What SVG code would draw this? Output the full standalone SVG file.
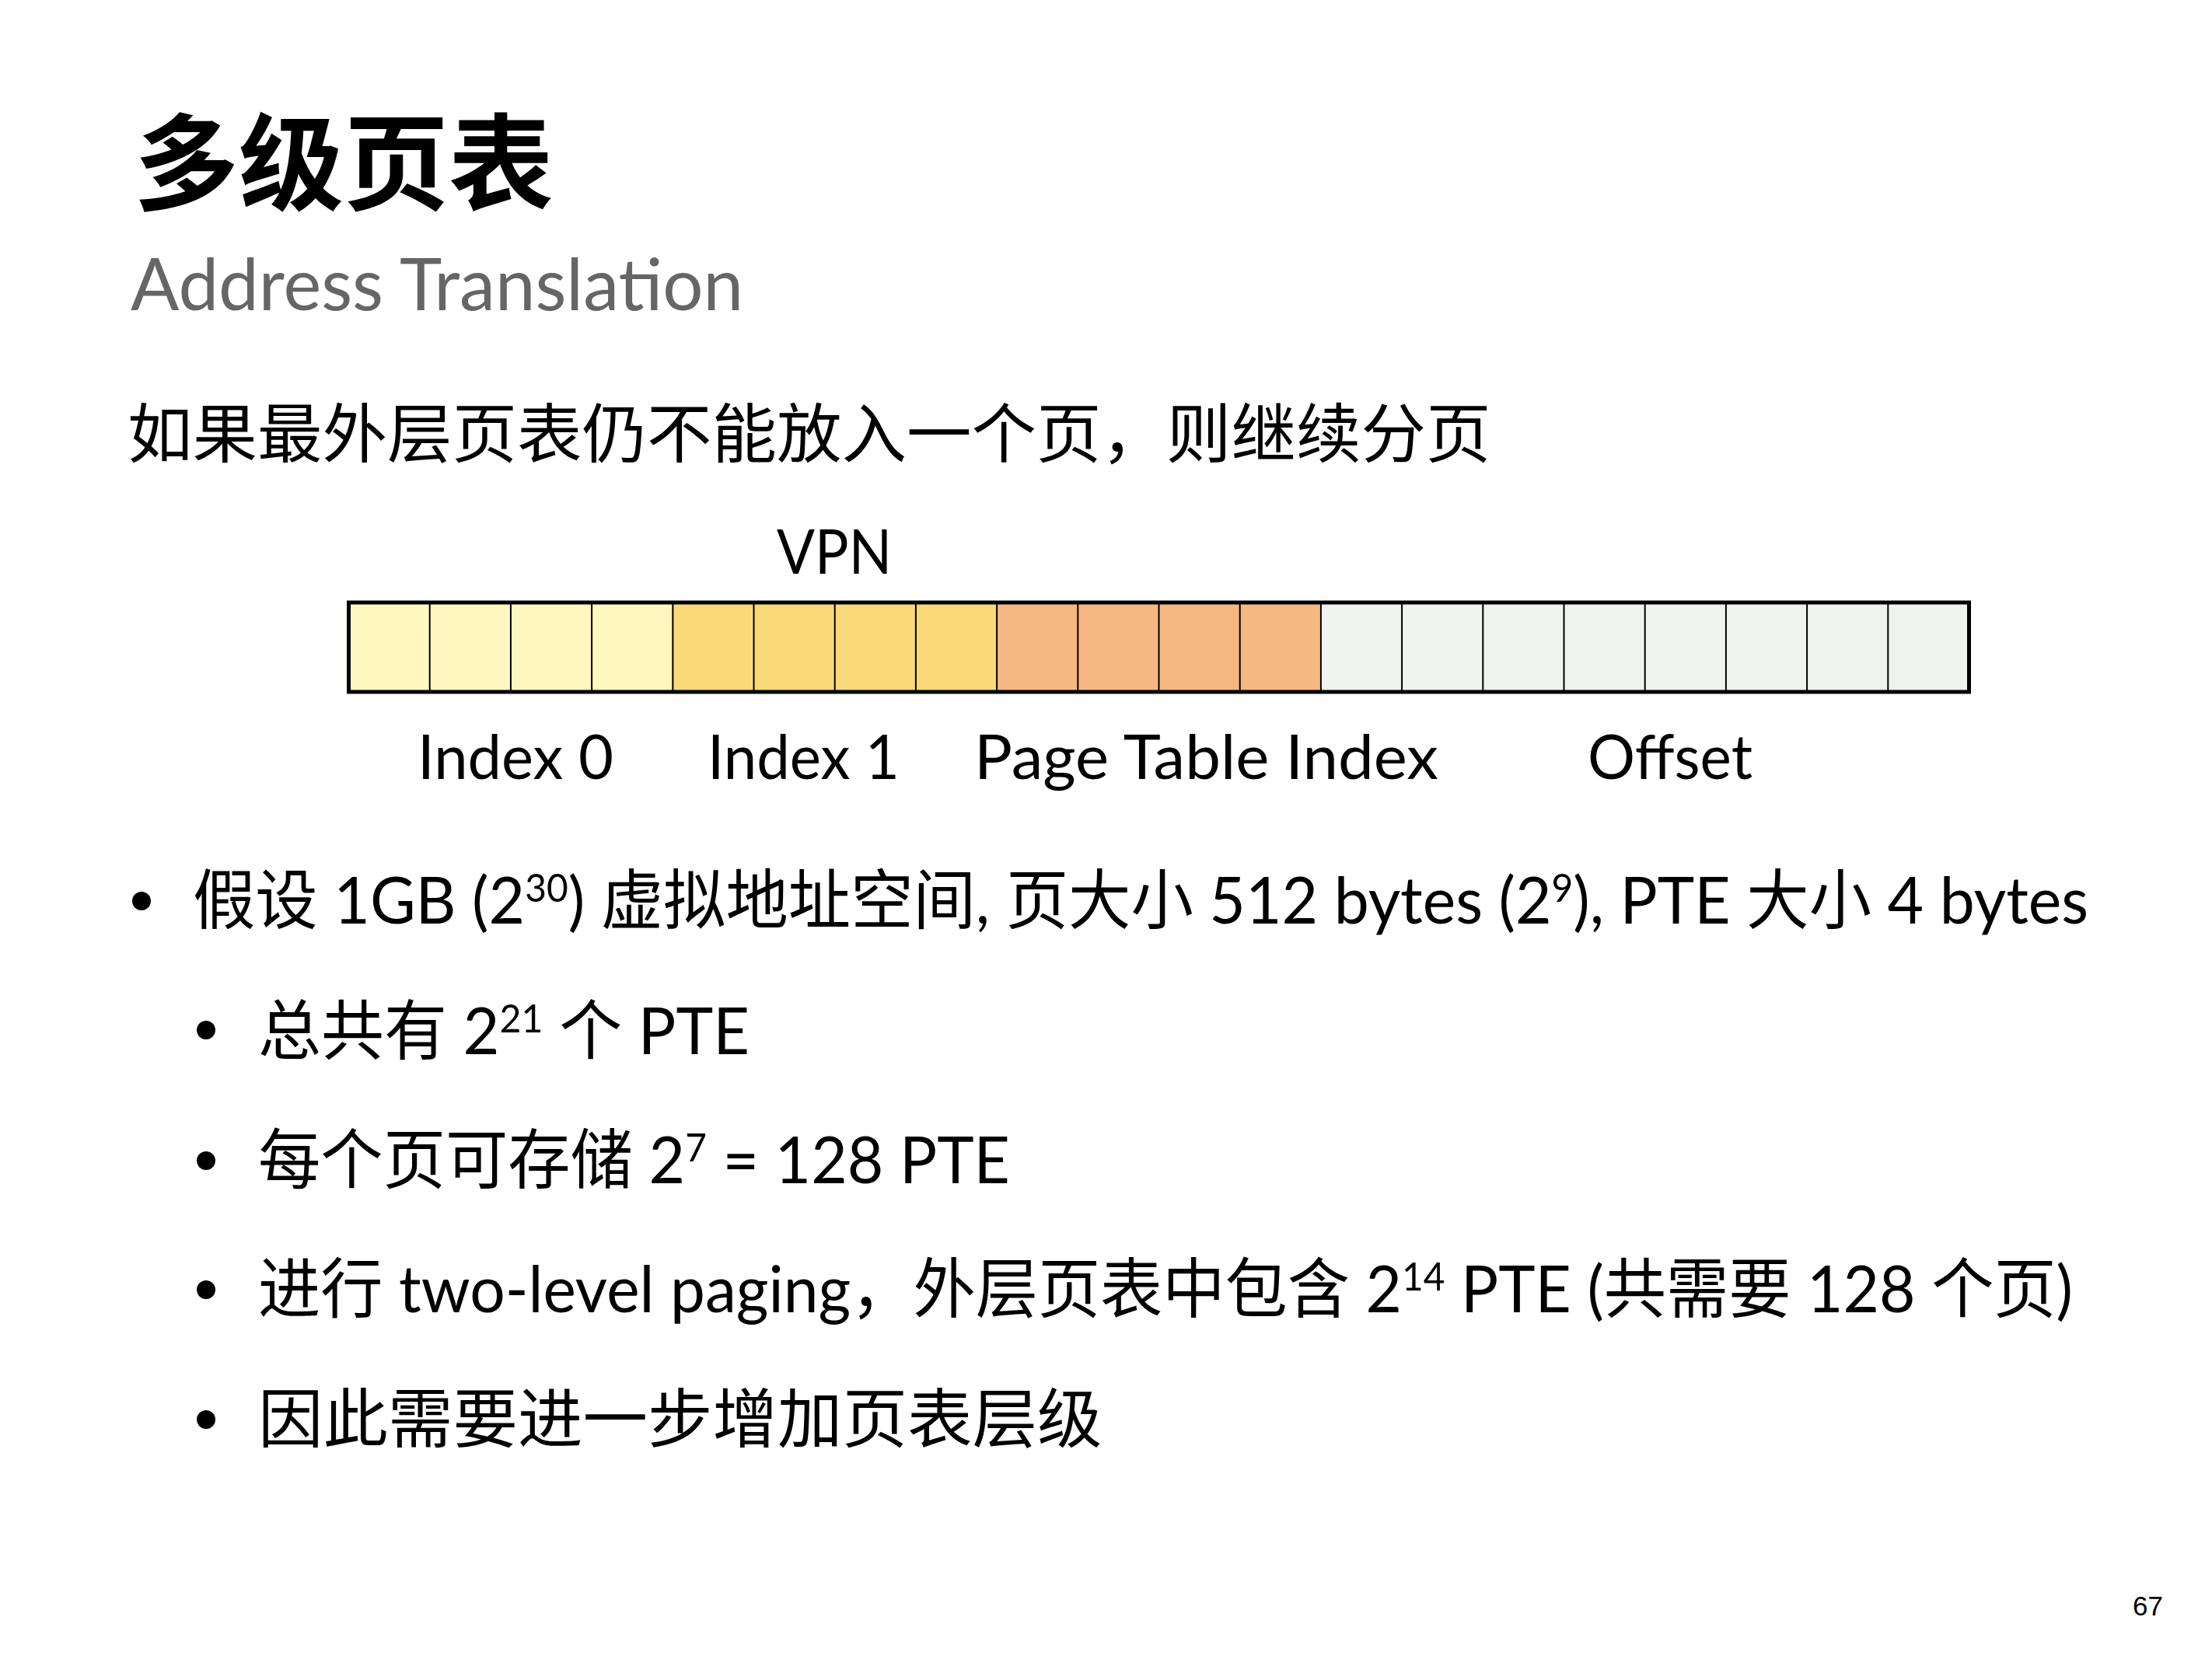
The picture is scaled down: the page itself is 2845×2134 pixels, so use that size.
<svg xmlns="http://www.w3.org/2000/svg" width="2845" height="2134" viewBox="0 0 2845 2134">
<style>
.cjk{font-family:"Lato","Noto Sans CJK SC",sans-serif;fill:#000}
.lbl{font-family:"Lato","Noto Sans CJK SC",sans-serif;font-size:80px;fill:#000}
.sup{font-size:50px}
.div{stroke:#000;stroke-width:2}
.c0{fill:#FEF8C0}.c1{fill:#F9D978}.c2{fill:#F6B883}.c3{fill:#F0F2EE}
</style>
<rect width="2845" height="2134" fill="#fff"/>
<g id="title">
<text x="172" y="260" font-family="'Noto Sans CJK SC',sans-serif" font-weight="700" font-size="135">多级页表</text>
<text x="168" y="399" font-family="Lato,'Liberation Sans',sans-serif" font-size="93" fill="#666" textLength="788" lengthAdjust="spacingAndGlyphs">Address Translation</text>
</g>
<g id="intro">
<text x="164" y="588" class="cjk" font-size="83.5">如果最外层页表仍不能放入一个页，则继续分页</text>
</g>
<g id="vpn-bar">
<text x="999" y="738" class="lbl" font-size="77" textLength="148" lengthAdjust="spacingAndGlyphs">VPN</text>
<g id="cells">
<rect x="448.5" y="775" width="416.8" height="115" class="c0"/>
<rect x="865.3" y="775" width="416.8" height="115" class="c1"/>
<rect x="1282.1" y="775" width="416.8" height="115" class="c2"/>
<rect x="1698.9" y="775" width="833.6" height="115" class="c3"/>
</g>
<g id="dividers">
<line x1="552.7" y1="775" x2="552.7" y2="890" class="div"/>
<line x1="656.9" y1="775" x2="656.9" y2="890" class="div"/>
<line x1="761.1" y1="775" x2="761.1" y2="890" class="div"/>
<line x1="865.3" y1="775" x2="865.3" y2="890" class="div"/>
<line x1="969.5" y1="775" x2="969.5" y2="890" class="div"/>
<line x1="1073.7" y1="775" x2="1073.7" y2="890" class="div"/>
<line x1="1177.9" y1="775" x2="1177.9" y2="890" class="div"/>
<line x1="1282.1" y1="775" x2="1282.1" y2="890" class="div"/>
<line x1="1386.3" y1="775" x2="1386.3" y2="890" class="div"/>
<line x1="1490.5" y1="775" x2="1490.5" y2="890" class="div"/>
<line x1="1594.7" y1="775" x2="1594.7" y2="890" class="div"/>
<line x1="1698.9" y1="775" x2="1698.9" y2="890" class="div"/>
<line x1="1803.1" y1="775" x2="1803.1" y2="890" class="div"/>
<line x1="1907.3" y1="775" x2="1907.3" y2="890" class="div"/>
<line x1="2011.5" y1="775" x2="2011.5" y2="890" class="div"/>
<line x1="2115.7" y1="775" x2="2115.7" y2="890" class="div"/>
<line x1="2219.9" y1="775" x2="2219.9" y2="890" class="div"/>
<line x1="2324.1" y1="775" x2="2324.1" y2="890" class="div"/>
<line x1="2428.3" y1="775" x2="2428.3" y2="890" class="div"/>
</g>
<rect x="448.5" y="775" width="2084" height="115" fill="none" stroke="#000" stroke-width="5"/>
<text x="537" y="1002" class="lbl" textLength="252" lengthAdjust="spacingAndGlyphs">Index 0</text>
<text x="910" y="1002" class="lbl" textLength="247" lengthAdjust="spacingAndGlyphs">Index 1</text>
<text x="1253" y="1002" class="lbl" textLength="597" lengthAdjust="spacingAndGlyphs">Page Table Index</text>
<text x="2042" y="1002" class="lbl" textLength="212" lengthAdjust="spacingAndGlyphs">Offset</text>
</g>
<g id="bullets">
<circle cx="182" cy="1159" r="12"/>
<circle cx="265" cy="1325" r="12"/>
<circle cx="265" cy="1493" r="12"/>
<circle cx="265" cy="1659" r="12"/>
<circle cx="265" cy="1826" r="12"/>
<text x="248" y="1188" class="cjk" font-size="84" textLength="2438" lengthAdjust="spacingAndGlyphs">假设 1GB (2<tspan class="sup" dy="-28">30</tspan><tspan dy="28">) 虚拟地址空间, 页大小 512 bytes (2</tspan><tspan class="sup" dy="-28">9</tspan><tspan dy="28">), PTE 大小 4 bytes</tspan></text>
<text x="332" y="1356" class="cjk" font-size="84" textLength="632" lengthAdjust="spacingAndGlyphs">总共有 2<tspan class="sup" dy="-28">21</tspan><tspan dy="28"> 个 PTE</tspan></text>
<text x="332" y="1522" class="cjk" font-size="84" textLength="967" lengthAdjust="spacingAndGlyphs">每个页可存储 2<tspan class="sup" dy="-28">7</tspan><tspan dy="28"> = 128 PTE</tspan></text>
<text x="332" y="1688" class="cjk" font-size="84" textLength="2334" lengthAdjust="spacingAndGlyphs">进行 two-level paging，外层页表中包含 2<tspan class="sup" dy="-28">14</tspan><tspan dy="28"> PTE (共需要 128 个页)</tspan></text>
<text x="332" y="1855" class="cjk" font-size="83.5">因此需要进一步增加页表层级</text>
</g>
<g id="page-number">
<text x="2743" y="2078" font-family="'Liberation Sans',Arial,sans-serif" font-size="35" fill="#000">67</text>
</g>
</svg>
